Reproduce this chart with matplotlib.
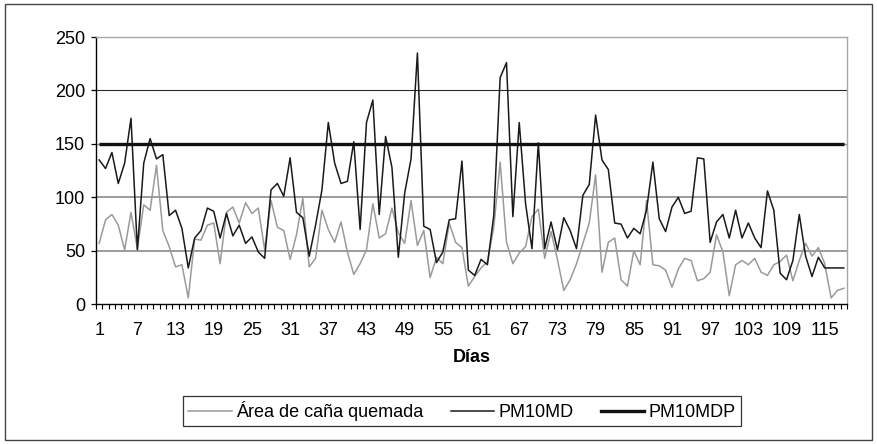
import numpy as np
import matplotlib
matplotlib.use("Agg")
import matplotlib.pyplot as plt
from matplotlib.lines import Line2D
from matplotlib.patches import Rectangle

# ---------------- data ----------------
area_cana = [57, 79, 84, 74, 51, 86, 52, 93, 88, 130,
             69, 54, 35, 37, 6, 61, 60, 74, 76, 38,
             86, 91, 76, 95, 85, 90, 51, 97, 72, 69,
             42, 65, 99, 35, 43, 88, 70, 58, 77, 49,
             28, 38, 51, 94, 62, 66, 90, 67, 57, 97,
             55, 69, 25, 44, 38, 76, 58, 53, 17, 26,
             34, 40, 72, 133, 58, 38, 48, 54, 82, 89,
             43, 68, 42, 13, 23, 38, 57, 76, 121, 30,
             58, 62, 23, 17, 50, 37, 97, 37, 36, 32,
             16, 33, 43, 41, 22, 24, 30, 65, 49, 8,
             37, 41, 37, 43, 30, 27, 37, 40, 46, 22,
             41, 57, 45, 53, 38, 6, 13, 15]

pm10md = [135, 127, 142, 113, 132, 174, 51, 132, 155, 136,
          140, 83, 88, 71, 34, 62, 69, 90, 87, 62,
          85, 64, 74, 57, 63, 49, 43, 107, 113, 101,
          137, 86, 81, 45, 74, 107, 170, 132, 113, 115,
          152, 70, 170, 191, 84, 157, 128, 44, 104, 136,
          235, 73, 70, 39, 49, 79, 80, 134, 32, 27,
          42, 37, 83, 212, 226, 82, 170, 94, 52, 151,
          52, 77, 51, 81, 69, 52, 102, 112, 177, 135,
          126, 76, 75, 62, 71, 66, 88, 133, 80, 68,
          91, 100, 85, 87, 137, 136, 58, 77, 84, 62,
          88, 62, 76, 62, 53, 106, 88, 29, 23, 41,
          84, 45, 26, 44, 34, 34, 34, 34]

limite_pm10mdp = 150          # PM10MDP (constant norm value)

dias = list(range(1, len(pm10md) + 1))
etiquetas_x = list(range(1, 116, 6))
ticks_y = [0, 50, 100, 150, 200, 250]

nombres = ["Área de caña quemada", "PM10MD", "PM10MDP"]
titulo_x = "Días"

# ---------------- figure ----------------
plt.rcParams["font.family"] = ["Liberation Sans", "DejaVu Sans"]
W, H = 878, 444
fig = plt.figure(figsize=(W / 100, H / 100), dpi=100)
fig.patch.set_facecolor("white")

left, right, top, bottom = 96, 847, 37, 304.3
ax = fig.add_axes([left / W, 1 - bottom / H, (right - left) / W, (bottom - top) / H])

n = len(dias)
ax.set_xlim(0.5, n + 0.5)
ax.set_ylim(0, 250)

# gridlines
for v, c, lw in [(50, "#8a8a8a", 1.2), (100, "#8a8a8a", 1.2), (150, "#8a8a8a", 1.0), (200, "#2a2a2a", 0.8)]:
    ax.axhline(v, color=c, lw=lw, zorder=1)

ax.plot(dias, area_cana, color="#9a9a9a", lw=1.1, zorder=3)
ax.plot(dias, pm10md, color="#1a1a1a", lw=1.1, zorder=4)
ax.plot(dias, np.full(n, limite_pm10mdp), color="#111111", lw=2.4, zorder=5,
        solid_capstyle="butt")

# spines
for s in ["top", "right"]:
    ax.spines[s].set_color("#a8a8a8")
    ax.spines[s].set_linewidth(1.0)
for s in ["left", "bottom"]:
    ax.spines[s].set_color("black")
    ax.spines[s].set_linewidth(1.0)

ax.set_yticks(ticks_y)
ax.tick_params(axis="y", direction="out", length=3.8, width=0.9, pad=4,
               labelsize=13, colors="black")

ax.set_xticks(etiquetas_x)
ax.set_xticklabels([str(v) for v in etiquetas_x])
ax.set_xticks(np.arange(0.5, n + 1, 1.0), minor=True)
ax.tick_params(axis="x", which="major", length=0, pad=12.5, labelsize=13)
ax.tick_params(axis="x", which="minor", direction="out", length=3.8, width=0.8)

fig.text((left + right) / 2 / W, 1 - 357 / H, titulo_x, ha="center", va="center",
         fontsize=13, fontweight="bold")

handles = [Line2D([], [], color="#9a9a9a", lw=1.1),
           Line2D([], [], color="#1a1a1a", lw=1.1),
           Line2D([], [], color="#111111", lw=2.4)]
leg = fig.legend(handles, nombres, loc="center",
                 bbox_to_anchor=(183 / W, 1 - 425 / H, (741 - 183) / W, 28 / H),
                 mode="expand", ncol=3, fontsize=13, handlelength=2.4,
                 handletextpad=0.25, borderpad=0.3, borderaxespad=0,
                 frameon=True, fancybox=False)
leg.get_frame().set_edgecolor("black")
leg.get_frame().set_linewidth(0.9)

fig.patches.append(Rectangle((5 / W, 4 / H), (872 - 5) / W, (440 - 4) / H,
                             transform=fig.transFigure, fill=False,
                             edgecolor="#444444", lw=1.0))

fig.savefig("out.png", dpi=100)
